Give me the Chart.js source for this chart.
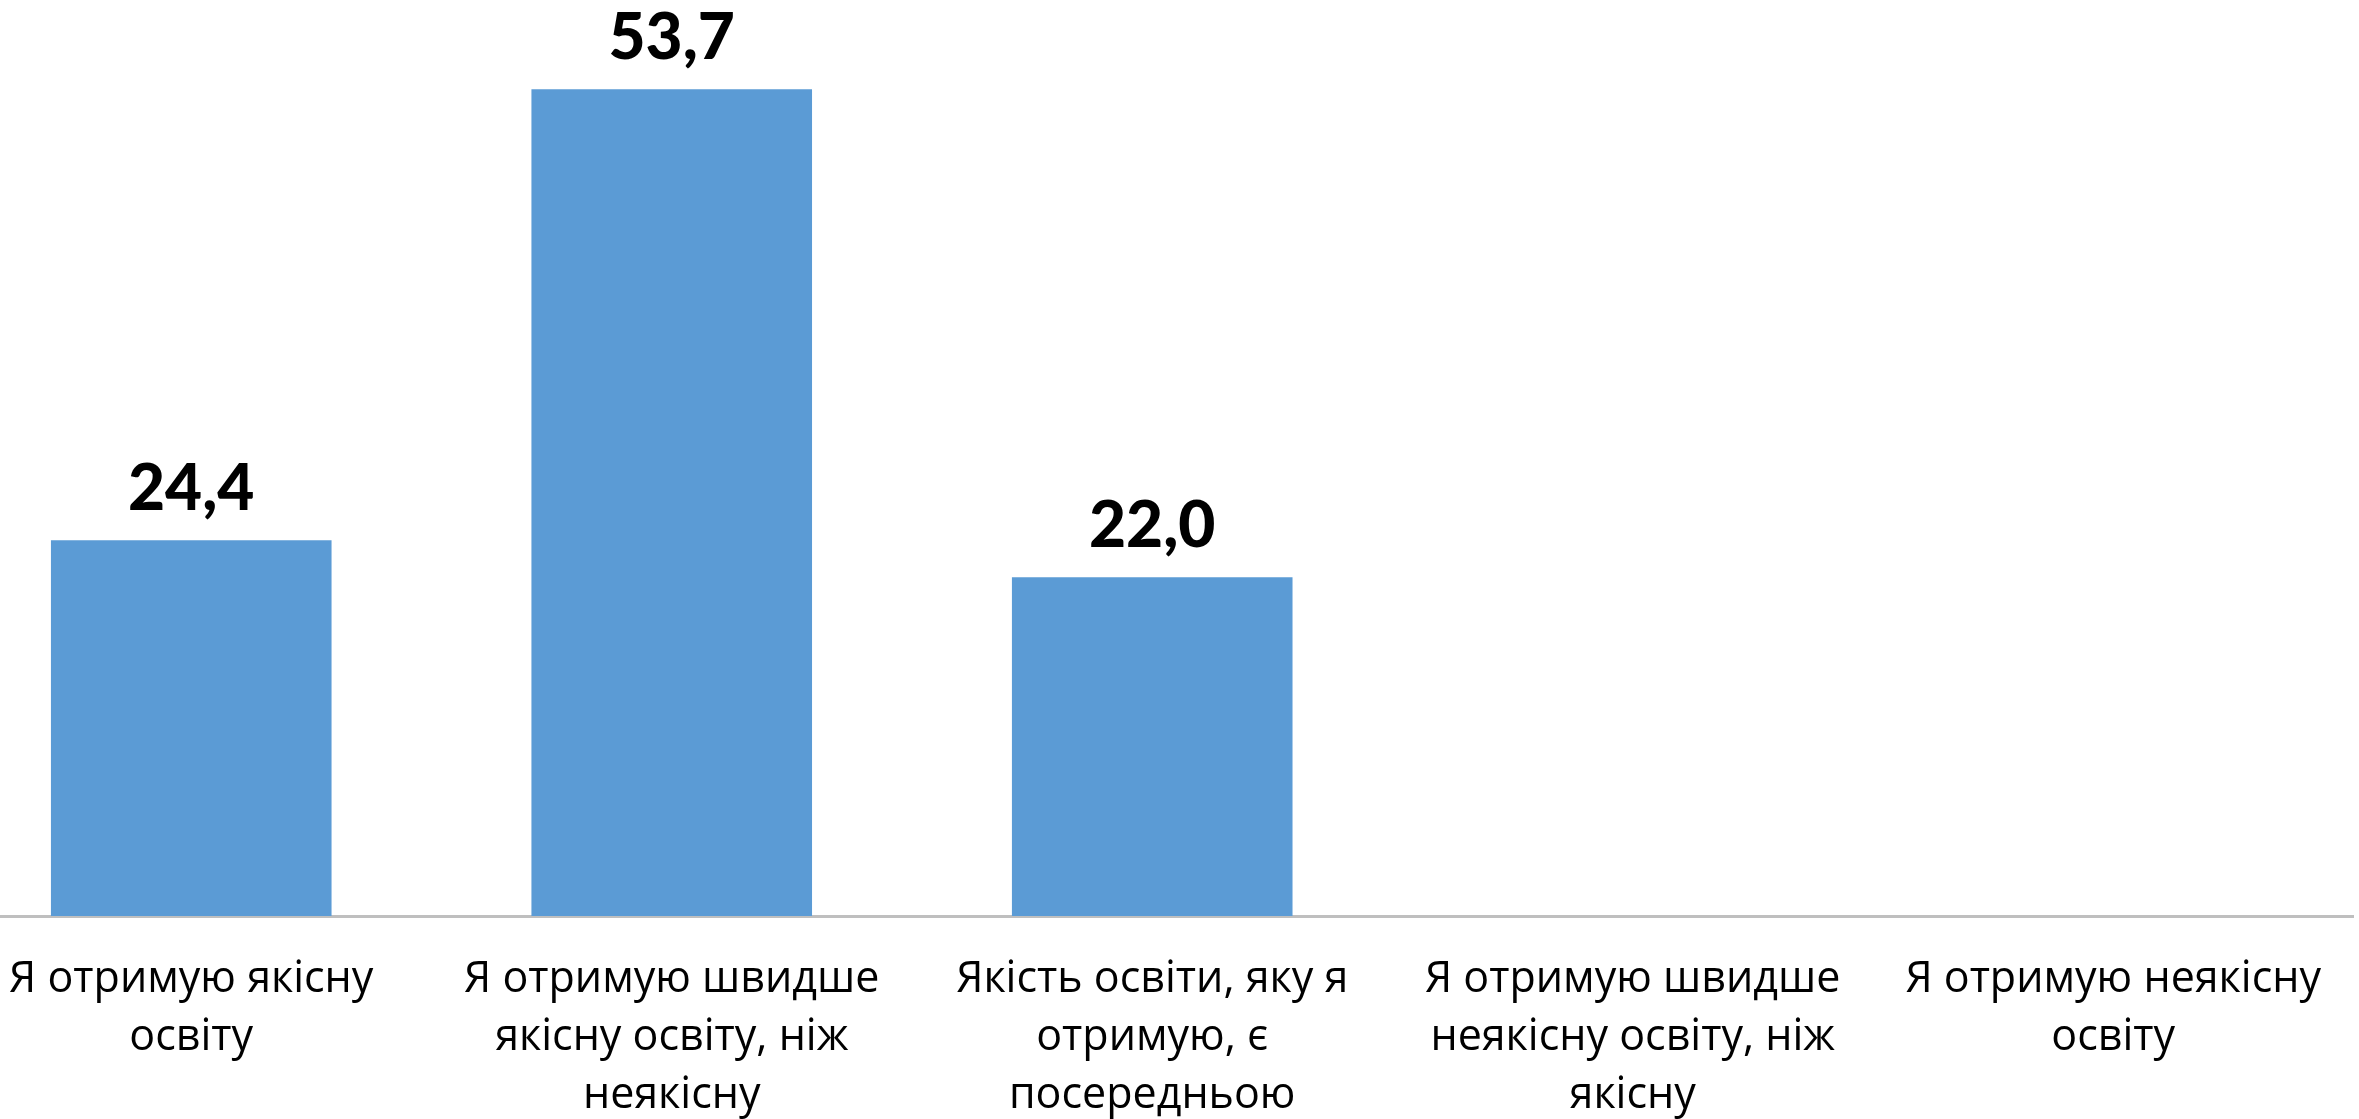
<!DOCTYPE html>
<html>
<head>
<meta charset="utf-8">
<script src="https://cdn.jsdelivr.net/npm/chart.js@4"></script>
<style>
  html, body { margin: 0; padding: 0; background: #fff; overflow: hidden; width: 2359px; height: 1119px; }
  #wrap { position: absolute; left: -49px; top: 0; width: 2405px; height: 1119px; }
</style>
</head>
<body>
<div id="wrap"><canvas id="c"></canvas></div>
<script>
const categories = [
  ["Я отримую якісну", "освіту"],
  ["Я отримую швидше", "якісну освіту, ніж", "неякісну"],
  ["Якість освіти, яку я", "отримую, є", "посередньою"],
  ["Я отримую швидше", "неякісну освіту, ніж", "якісну"],
  ["Я отримую неякісну", "освіту"]
];
const values = [24.4, 53.7, 22.0, null, null];
const valueLabels = ["24,4", "53,7", "22,0", "", ""];

const labelPlugin = {
  id: 'valueLabels',
  afterDatasetsDraw(chart) {
    const ctx = chart.ctx;
    const meta = chart.getDatasetMeta(0);
    ctx.save();
    ctx.font = '900 64px Lato, "Noto Sans", sans-serif';
    ctx.fillStyle = '#000';
    ctx.textAlign = 'center';
    ctx.textBaseline = 'alphabetic';
    meta.data.forEach((bar, i) => {
      if (values[i] == null) return;
      ctx.fillText(valueLabels[i], bar.x, bar.y - 30);
    });
    ctx.restore();
  }
};

new Chart(document.getElementById('c'), {
  type: 'bar',
  data: {
    labels: categories,
    datasets: [{
      data: values,
      backgroundColor: '#5B9BD5',
      borderWidth: 0,
      categoryPercentage: 1.0,
      barPercentage: 0.584
    }]
  },
  plugins: [labelPlugin],
  options: {
    responsive: true,
    maintainAspectRatio: false,
    devicePixelRatio: 1,
    animation: false,
    layout: { padding: { top: 0, bottom: 0, left: 0, right: 0 } },
    plugins: { legend: { display: false }, tooltip: { enabled: false } },
    scales: {
      y: { display: false, min: 0, max: 59.5 },
      x: {
        afterFit(scale) { scale.height = 203; },
        grid: { display: false, drawTicks: false },
        border: { display: true, color: '#BFBFBF', width: 3 },
        ticks: {
          autoSkip: false,
          maxRotation: 0,
          minRotation: 0,
          padding: 35,
          color: '#000',
          font: { family: '"Open Sans", "Noto Sans", sans-serif', size: 43, lineHeight: 1.35 }
        }
      }
    }
  }
});
</script>
</body>
</html>
